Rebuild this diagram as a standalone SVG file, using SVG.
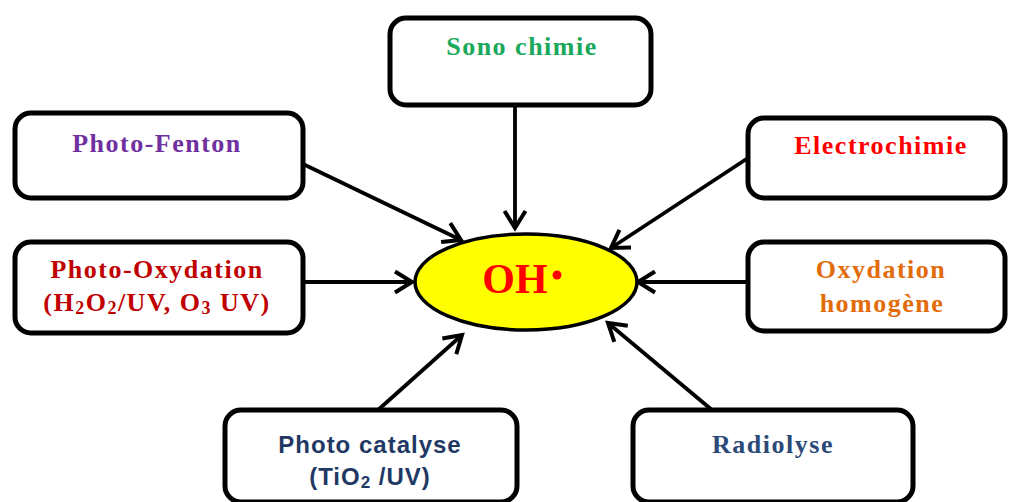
<svg xmlns="http://www.w3.org/2000/svg" width="1009" height="502" viewBox="0 0 1009 502">
<style>
.box{fill:#fff;stroke:#000;stroke-width:5}
.t{font-family:"Liberation Serif",serif;font-weight:bold;font-size:26px;text-anchor:middle;letter-spacing:1.5px}
.s{font-family:"Liberation Sans",Arial,sans-serif;font-weight:bold;font-size:24px;text-anchor:middle;letter-spacing:1px}
.c{stroke:#000;stroke-width:3.8;fill:none;marker-end:url(#ah)}
</style>
<defs>
<marker id="ah" markerUnits="userSpaceOnUse" orient="auto" refX="0" refY="0" markerWidth="30" markerHeight="30" viewBox="-20 -15 25 30" overflow="visible">
<path d="M -17 -10.5 L 0 0 L -17 10.5" fill="none" stroke="#000" stroke-width="4" stroke-linejoin="miter"/>
</marker>
</defs>
<rect width="1009" height="502" fill="#fff"/>
<g id="connectors">
<line class="c" x1="515" y1="105" x2="515" y2="228"/>
<line class="c" x1="303" y1="164" x2="461" y2="240"/>
<line class="c" x1="303" y1="282" x2="412" y2="282"/>
<line class="c" x1="748" y1="158" x2="611" y2="248"/>
<line class="c" x1="748" y1="282" x2="638" y2="282"/>
<line class="c" x1="378" y1="410" x2="462" y2="335"/>
<line class="c" x1="712" y1="410" x2="608" y2="323"/>
</g>
<g id="oh">
<ellipse cx="526" cy="282" rx="111" ry="48" fill="#ffff00" stroke="#000" stroke-width="3.5"/>
<text x="515" y="293" font-family="Liberation Serif,serif" font-weight="bold" font-size="42" fill="#ff0000" text-anchor="middle">OH</text>
<circle cx="557" cy="275" r="4.5" fill="#ff0000"/>
</g>
<g id="sono">
<rect class="box" x="390" y="18" width="261" height="87" rx="16"/>
<text class="t" x="522" y="55" fill="#1aa85a">Sono chimie</text>
</g>
<g id="fenton">
<rect class="box" x="15" y="113" width="288" height="85" rx="16"/>
<text class="t" x="157" y="152" fill="#7030a0">Photo-Fenton</text>
</g>
<g id="photoox">
<rect class="box" x="15" y="242" width="288" height="91" rx="16"/>
<text class="t" x="157" y="278" fill="#c00000">Photo-Oxydation</text>
<text class="t" x="157" y="311" fill="#c00000">(H<tspan font-size="18" dy="3">2</tspan><tspan dy="-3">O</tspan><tspan font-size="18" dy="3">2</tspan><tspan dy="-3">/UV, O</tspan><tspan font-size="18" dy="3">3</tspan><tspan dy="-3"> UV)</tspan></text>
</g>
<g id="electro">
<rect class="box" x="748" y="118" width="257" height="80" rx="16"/>
<text class="t" x="881" y="154" fill="#ff0000">Electrochimie</text>
</g>
<g id="oxyhomo">
<rect class="box" x="748" y="242" width="257" height="89" rx="16"/>
<text class="t" x="881" y="278" fill="#e36c0a">Oxydation</text>
<text class="t" x="882" y="312" fill="#e36c0a">homogène</text>
</g>
<g id="catalyse">
<rect class="box" x="225" y="410" width="292" height="92" rx="16"/>
<text class="s" x="370" y="453" fill="#1f3864">Photo catalyse</text>
<text class="s" x="370" y="485" fill="#1f3864">(TiO<tspan font-size="17" dy="3">2</tspan><tspan dy="-3"> /UV)</tspan></text>
</g>
<g id="radiolyse">
<rect class="box" x="633" y="410" width="280" height="92" rx="16"/>
<text class="t" x="773" y="453" fill="#2c4a78">Radiolyse</text>
</g>
</svg>
